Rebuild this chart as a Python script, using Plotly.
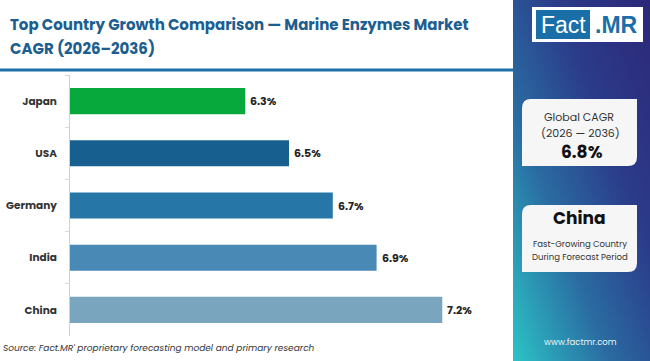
import base64
import plotly.graph_objects as go

countries = ["Japan", "USA", "Germany", "India", "China"]
cagr = [6.3, 6.5, 6.7, 6.9, 7.2]
bar_colors = ["#08a93c", "#175f8f", "#2677a8", "#4889b5", "#7aa5bf"]
value_labels = [f"{v:.1f}%" for v in cagr]

title_line1 = "Top Country Growth Comparison \u2014 Marine Enzymes Market"
title_line2 = "CAGR (2026\u20132036)"
global_cagr = "6.8%"
top_country = "China"
source_text = "Source: Fact.MR' proprietary forecasting model and primary research"

W, H = 650, 361
L, R, T, B = 70, 142, 75, 25
PW, PH = W - L - R, H - T - B


def px(x):
    return (x - L) / PW


def py(y):
    return (H - B - y) / PH


FONT = "Poppins, Open Sans, sans-serif"

fig = go.Figure()
fig.add_trace(go.Bar(
    x=cagr, y=countries, orientation="h",
    marker=dict(color=bar_colors, line=dict(width=0)),
    hoverinfo="skip",
))

svg = (
    '<svg xmlns="http://www.w3.org/2000/svg" width="137" height="361" viewBox="0 0 137 361" preserveAspectRatio="none">'
    '<defs><linearGradient id="g" x1="1" y1="0" x2="0" y2="1">'
    '<stop offset="0" stop-color="#2c2878"/>'
    '<stop offset="0.35" stop-color="#2b3c8a"/>'
    '<stop offset="0.65" stop-color="#2a6ca2"/>'
    '<stop offset="1" stop-color="#2cc3c6"/>'
    '</linearGradient></defs>'
    '<rect x="0" y="0" width="137" height="361" fill="url(#g)"/></svg>'
)
svg_uri = "data:image/svg+xml;base64," + base64.b64encode(svg.encode()).decode()

images = [dict(source=svg_uri, xref="paper", yref="paper",
               x=px(513), y=py(0), sizex=px(650) - px(513), sizey=py(0) - py(361),
               xanchor="left", yanchor="top", sizing="stretch", layer="below")]


def rect(x0, y0, x1, y1, fill, line=None):
    return dict(type="rect", xref="paper", yref="paper",
                x0=px(x0), x1=px(x1), y0=py(y1), y1=py(y0),
                fillcolor=fill, line=line or dict(width=0), layer="above")


def card(x0, y0, x1, y1, r=9):
    # rounded top-left and bottom-right corners
    pts = (f"M {px(x0)},{py(y0 + r)} Q {px(x0)},{py(y0)} {px(x0 + r)},{py(y0)} "
           f"L {px(x1)},{py(y0)} L {px(x1)},{py(y1 - r)} "
           f"Q {px(x1)},{py(y1)} {px(x1 - r)},{py(y1)} L {px(x0)},{py(y1)} Z")
    return dict(type="path", xref="paper", yref="paper", path=pts,
                fillcolor="#f6f6f7", line=dict(width=0), layer="above")


shapes = [
    dict(type="line", xref="paper", yref="paper", x0=px(0), x1=px(513),
         y0=py(70), y1=py(70), line=dict(color="#1f6fa8", width=3)),
    rect(532, 7, 643, 42, "#ffffff"),
    rect(536, 10, 590, 39, "#1b6fa9"),
    card(522, 99, 637, 166),
    card(522, 205, 637, 272),
]

ann = []

# value labels, placed through the data axes
for c, v, lab in zip(countries, cagr, value_labels):
    ann.append(dict(x=v, y=c, xref="x", yref="y", text=lab, showarrow=False,
                    xanchor="left", yanchor="middle", xshift=3,
                    font=dict(family=FONT, size=11, color="#222222", weight="bold")))


def text(x, y, s, size, color="#333333", weight="normal", anchor="center", style="normal", family=FONT):
    ann.append(dict(x=px(x), y=py(y), xref="paper", yref="paper", text=s, showarrow=False,
                    xanchor=anchor, yanchor="middle",
                    font=dict(family=family, size=size, color=color, weight=weight, style=style)))


text(8, 25, title_line1, 15, color="#1b5e8f", weight="bold", anchor="left")
text(8, 48, title_line2, 15, color="#1b5e8f", weight="bold", anchor="left")
text(563, 25, "Fact", 23, color="#ffffff", family="Liberation Sans, Arial, sans-serif")
text(616, 25, ".MR", 23, color="#1b6fa9", weight="bold", family="Liberation Sans, Arial, sans-serif")
text(579, 117, "Global CAGR", 11, color="#333333")
text(580, 133, "(2026 \u2014 2036)", 11, color="#333333")
text(582, 152, global_cagr, 17, color="#111111", weight="bold")
text(579, 218, top_country, 17, color="#111111", weight="bold")
text(580, 244, "Fast-Growing Country", 8.5, color="#333333")
text(580, 257, "During Forecast Period", 8.5, color="#333333")
text(580, 342, "www.factmr.com", 8.5, color="#e8f4f8")
text(1, 348, source_text, 9, color="#333333", anchor="left", style="italic")

fig.update_layout(
    width=W, height=H,
    margin=dict(l=L, r=R, t=T, b=B, autoexpand=False),
    paper_bgcolor="#ffffff", plot_bgcolor="#ffffff",
    bargap=0.5, showlegend=False,
    xaxis=dict(range=[5.5, 7.5], visible=False, fixedrange=True, automargin=False),
    yaxis=dict(categoryorder="array", categoryarray=countries, autorange="reversed",
               showline=True, linecolor="#d0d0d0", linewidth=1,
               ticks="outside", ticklen=4, tickcolor="#d8d8d8", tickson="boundaries",
               ticklabelstandoff=10, automargin=False,
               tickfont=dict(family=FONT, size=10.5, color="#333333", weight="bold"),
               showgrid=False, fixedrange=True),
    shapes=shapes, annotations=ann, images=images,
)

fig.write_html("out.html", config={"displayModeBar": False},
               post_script="document.body.style.margin='0';document.body.style.padding='0';")
